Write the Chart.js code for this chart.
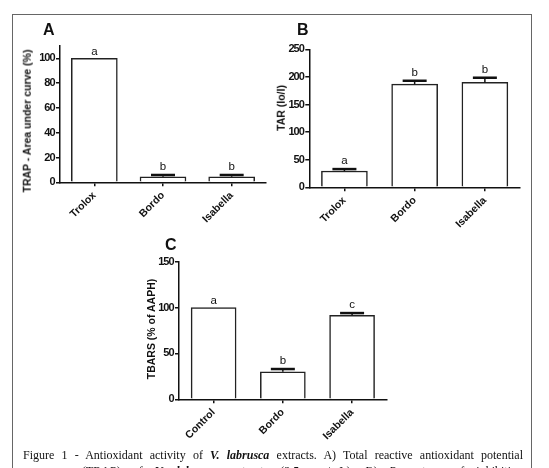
<!DOCTYPE html>
<html>
<head>
<meta charset="utf-8">
<script src="https://cdn.jsdelivr.net/npm/chart.js@4/dist/chart.umd.min.js"></script>
<style>
  html, body { margin:0; padding:0; background:#fff; }
  #page { position:relative; width:549px; height:468px; overflow:hidden; background:#fff; }
  #frame { position:absolute; left:12px; top:14px; width:518px; height:470px; border:1px solid #666; border-bottom:none; }
  canvas.c { position:absolute; }
  .panel { position:absolute; font:bold 16px 'Liberation Sans', Arial, sans-serif; color:#111; line-height:1; }
  .ytitle { position:absolute; font:bold 10.5px 'Liberation Sans', Arial, sans-serif; color:#111; white-space:nowrap;
            transform:translate(-50%,-50%) rotate(-90deg); line-height:1; }
  .cap { position:absolute; font:12px 'Liberation Serif', 'Times New Roman', serif; color:#111; line-height:14px;
         text-align:justify; text-align-last:justify; white-space:nowrap; }
</style>
</head>
<body>
<div id="page">
  <div id="frame"></div>
  <canvas id="chartA" class="c" style="left:14px;top:16px;width:262px;height:220px" width="262" height="220"></canvas>
  <canvas id="chartB" class="c" style="left:272px;top:16px;width:258px;height:220px" width="258" height="220"></canvas>
  <canvas id="chartC" class="c" style="left:140px;top:232px;width:256px;height:220px" width="256" height="220"></canvas>
  <div class="panel" style="left:43px;top:22px">A</div>
  <div class="panel" style="left:297px;top:22px">B</div>
  <div class="panel" style="left:165px;top:237px">C</div>
  <div class="ytitle" style="left:27px;top:121px">TRAP - Area under curve (%)</div>
  <div class="ytitle" style="left:281px;top:108px">TAR (Io/I)</div>
  <div class="ytitle" style="left:151px;top:329px">TBARS (% of AAPH)</div>
  <div class="cap" style="left:23px;top:448px;width:500px">Figure 1 - Antioxidant activity of <b><i>V. labrusca</i></b> extracts. A) Total reactive antioxidant potential</div>
  <div class="cap" style="left:82px;top:464px;width:441px">(TRAP) of <b><i>V. labrusca</i></b> extracts (2.5 mg/mL). B) Percentage of inhibition</div>
</div>
<script>
// ---- Panel A: TRAP ----
const catsA = ['Trolox', 'Bordo', 'Isabella'];
const valuesA = [100, 4.5, 4.5];
const errorsA = [0, 1.4, 1.4];
const lettersA = ['a', 'b', 'b'];
const yMaxA = 110, yStepA = 20;

// ---- Panel B: TAR ----
const catsB = ['Trolox', 'Bordo', 'Isabella'];
const valuesB = [29.5, 187, 190];
const errorsB = [3.5, 6, 8.5];
const lettersB = ['a', 'b', 'b'];
const yMaxB = 250, yStepB = 50;

// ---- Panel C: TBARS ----
const catsC = ['Control', 'Bordo', 'Isabella'];
const valuesC = [100, 30, 91.5];
const errorsC = [0, 3, 2.5];
const lettersC = ['a', 'b', 'c'];
const yMaxC = 150, yStepC = 50;

const FONT = "'Liberation Sans', Arial, sans-serif";
const INK = '#111';

// condensed look for the y tick numbers (tight letter spacing)
const tightY = {
  id: 'tightY',
  beforeDraw(chart) {
    const s = chart.scales.y;
    if (s && !s.__tight) {
      const orig = s.drawLabels;
      s.drawLabels = function (ca) {
        const c = this.ctx;
        const prev = c.letterSpacing;
        c.letterSpacing = '-1px';
        orig.call(this, ca);
        c.letterSpacing = prev || '0px';
      };
      s.__tight = true;
    }
  }
};

const errPlugin = {
  id: 'errLetters',
  afterDatasetsDraw(chart, args, opts) {
    const ctx = chart.ctx;
    const meta = chart.getDatasetMeta(0);
    const ys = chart.scales.y;
    ctx.save();
    meta.data.forEach((el, i) => {
      const v = opts.values[i], e = opts.errors[i];
      const top = ys.getPixelForValue(v + e);
      if (e > 0) {
        ctx.strokeStyle = INK;
        ctx.lineWidth = 1.5;
        ctx.beginPath(); ctx.moveTo(el.x, el.y); ctx.lineTo(el.x, top); ctx.stroke();
        ctx.lineWidth = 2.5;
        ctx.beginPath(); ctx.moveTo(el.x - 12, top); ctx.lineTo(el.x + 12, top); ctx.stroke();
      }
      ctx.fillStyle = INK;
      ctx.font = '11.5px ' + FONT;
      ctx.textAlign = 'center';
      ctx.textBaseline = 'bottom';
      ctx.fillText(opts.letters[i], el.x, top - (e > 0 ? 2.5 : 1));
    });
    ctx.restore();
  }
};

function makeChart(id, cats, values, errors, letters, yMax, yStep, geom) {
  return new Chart(document.getElementById(id), {
    type: 'bar',
    data: {
      labels: cats,
      datasets: [{
        data: values,
        backgroundColor: '#fff',
        borderColor: '#222',
        borderWidth: 1.5,
        borderSkipped: 'bottom',
        barThickness: geom.bar,
      }]
    },
    plugins: [tightY, errPlugin],
    options: {
      responsive: false,
      animation: false,
      layout: { padding: { left: 0, top: geom.top, right: geom.right, bottom: 0 } },
      plugins: {
        legend: { display: false },
        tooltip: { enabled: false },
        errLetters: { values, errors, letters }
      },
      scales: {
        x: {
          offset: true,
          grid: { display: true, drawOnChartArea: false, drawTicks: true, tickLength: 4, color: INK, lineWidth: 1.5, offset: false },
          border: { display: true, color: INK, width: 1.5 },
          ticks: { color: INK, font: { family: FONT, size: 10.5, weight: 'bold' }, minRotation: 45, maxRotation: 45, padding: 3, autoSkip: false },
          afterFit: s => { s.height = geom.xh; }
        },
        y: {
          min: 0, max: yMax,
          grid: { display: true, drawOnChartArea: false, drawTicks: true, tickLength: 4, color: INK, lineWidth: 1.5 },
          border: { display: true, color: INK, width: 1.5 },
          ticks: { stepSize: yStep, includeBounds: false, color: INK, padding: 1.5, font: { family: FONT, size: 11, weight: 'bold' } },
          afterFit: s => { s.width = geom.yw; }
        }
      }
    }
  });
}

// chart areas: A left 60,right 266,top 45.9,bottom 182.3 (page coords)
makeChart('chartA', catsA, valuesA, errorsA, lettersA, yMaxA, yStepA,
  { top: 29.9, right: 10, yw: 46, xh: 53.7, bar: 46 });
// B left 309.3,right 520,top 49.3,bottom 187.3
makeChart('chartB', catsB, valuesB, errorsB, lettersB, yMaxB, yStepB,
  { top: 33.3, right: 10, yw: 37.3, xh: 48.7, bar: 46 });
// C left 179,right 386.7,top 261.7,bottom 399.3
makeChart('chartC', catsC, valuesC, errorsC, lettersC, yMaxC, yStepC,
  { top: 29.7, right: 9.3, yw: 39, xh: 52.7, bar: 45 });
</script>
</body>
</html>
